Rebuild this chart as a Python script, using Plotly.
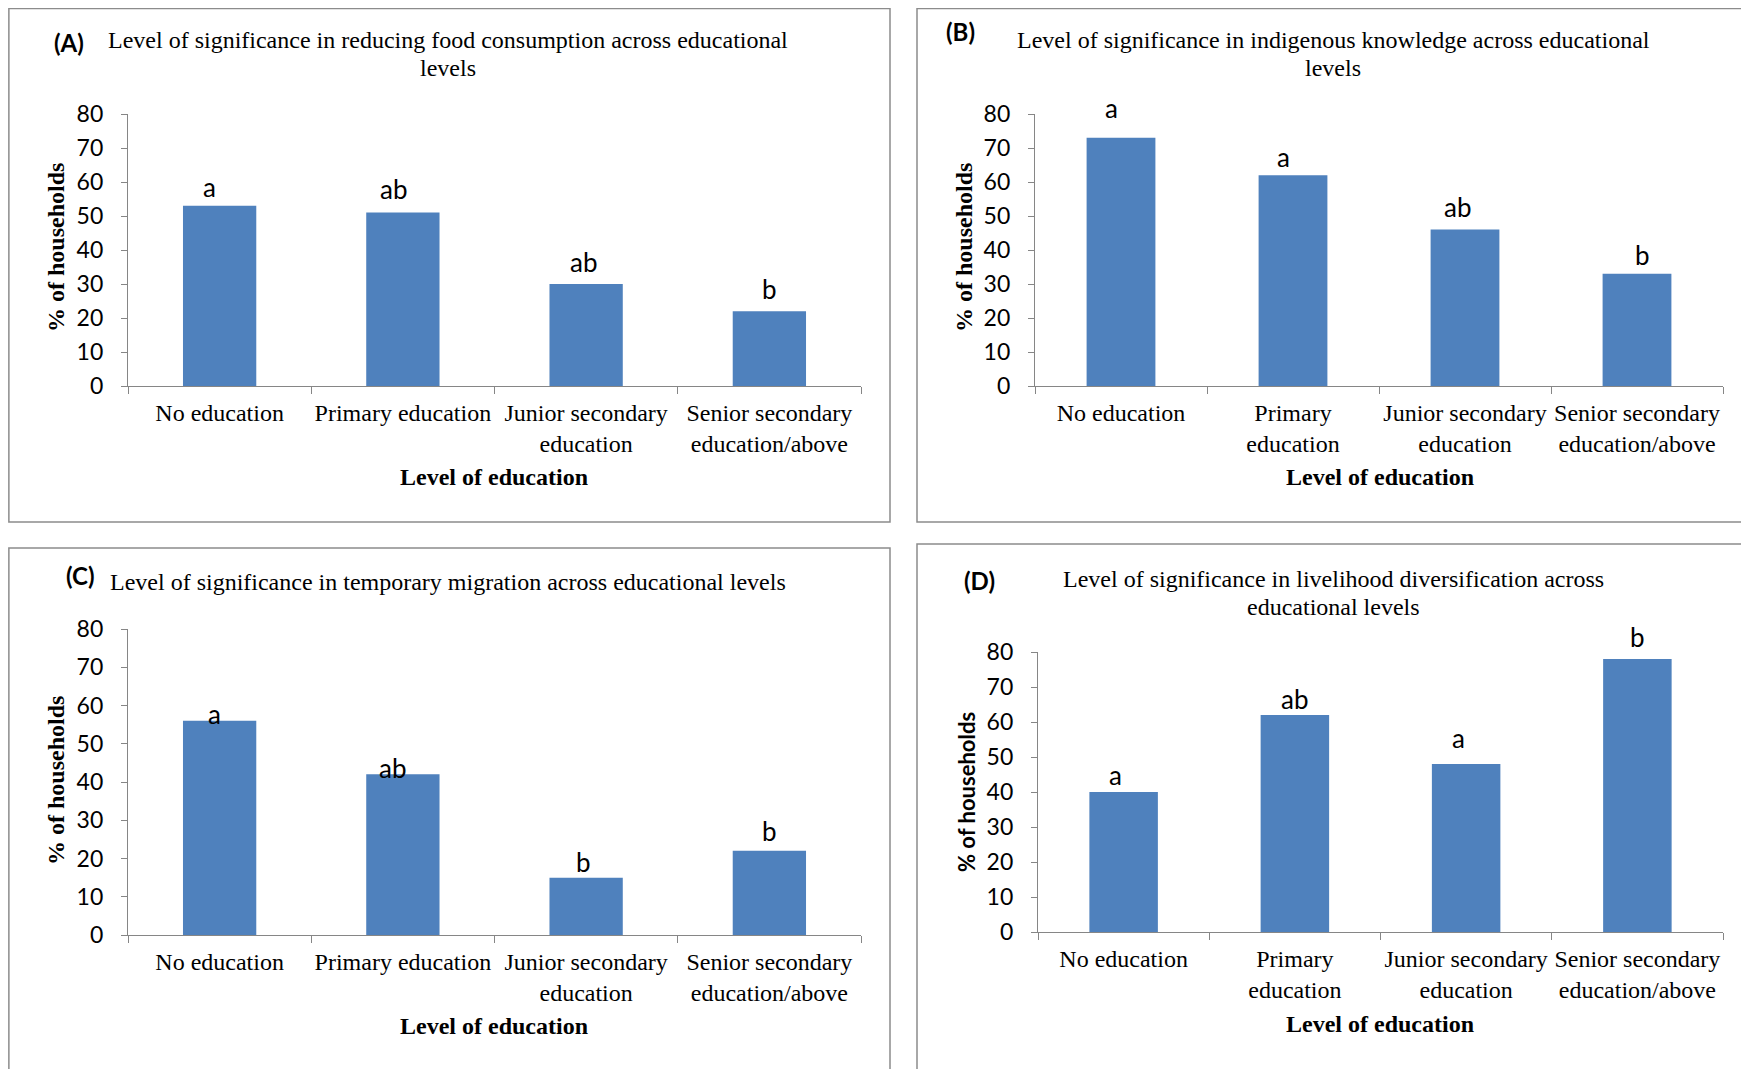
import plotly.graph_objects as go

# figure size; the page shows it offset by the default body margin
FW, FH = 1741, 1061
OX, OY = 8, 8

# ---------------- data ----------------
labels_wide = ["No education", "Primary education", "Junior secondary<br>education",
               "Senior secondary<br>education/above"]
labels_narrow = ["No education", "Primary<br>education", "Junior secondary<br>education",
                 "Senior secondary<br>education/above"]

values_A = [53, 51, 30, 22]
values_B = [73, 62, 46, 33]
values_C = [56, 42, 15, 22]
values_D = [40, 62, 48, 78]

letters_A = ["a", "ab", "ab", "b"]
letters_B = ["a", "a", "ab", "b"]
letters_C = ["a", "ab", "b", "b"]
letters_D = ["a", "ab", "a", "b"]

title_lines = {
    "A": ["Level of significance in reducing food consumption across educational", "levels"],
    "B": ["Level of significance in indigenous knowledge across educational", "levels"],
    "C": ["Level of significance in temporary migration across educational levels"],
    "D": ["Level of significance in livelihood diversification across", "educational levels"],
}
y_title = "% of households"
x_title = "Level of education"
y_ticks = [0, 10, 20, 30, 40, 50, 60, 70, 80]

# ---------------- styling / layout ----------------
SERIF = "Liberation Serif"
SANS = "Lato"
BAR = "#4F81BD"
AX = "#868686"
LINE_GAP = 28


def px(x):
    return (x - OX) / FW


def py(y):
    return 1 - (y - OY) / FH


panels = [
    dict(key="A", vals=values_A, lets=letters_A, labels=labels_wide,
         x0=128, x1=861, y0=386, y1=114,
         box=(8, 6, 890, 522), tag=(69, 42), title=(448, 40), ytitle=(56, 248),
         xtitle=(494, 477), yfont=SERIF,
         lshift=[19, 24, 22, 22], lx=[-10, -9, -3, 0]),
    dict(key="B", vals=values_B, lets=letters_B, labels=labels_narrow,
         x0=1035, x1=1723, y0=386, y1=114,
         box=(917, 6, 1760, 522), tag=(961, 31), title=(1333, 40), ytitle=(964, 248),
         xtitle=(1380, 477), yfont=SERIF,
         lshift=[30, 18, 23, 19], lx=[-10, -10, -8, 5]),
    dict(key="C", vals=values_C, lets=letters_C, labels=labels_wide,
         x0=128, x1=861, y0=935, y1=629,
         box=(8, 548, 890, 1080), tag=(80, 575), title=(448, 582), ytitle=(56, 781),
         xtitle=(494, 1026), yfont=SERIF,
         lshift=[7, 6, 16, 20], lx=[-5, -10, -3, 0]),
    dict(key="D", vals=values_D, lets=letters_D, labels=labels_narrow,
         x0=1038, x1=1723, y0=932, y1=652,
         box=(917, 544, 1760, 1080), tag=(979, 580), title=(1333, 579), ytitle=(966, 792),
         xtitle=(1380, 1024), yfont=SANS,
         lshift=[17, 16, 26, 22], lx=[-8, 0, -8, 0]),
]

fig = go.Figure()
annotations = []
shapes = []

for i, p in enumerate(panels, start=1):
    xa = "x" if i == 1 else f"x{i}"
    ya = "y" if i == 1 else f"y{i}"
    fig.add_trace(go.Bar(
        x=p["labels"], y=p["vals"], xaxis=xa, yaxis=ya,
        marker=dict(color=BAR, line=dict(width=0)),
        showlegend=False, hoverinfo="x+y",
    ))
    xkey = "xaxis" if i == 1 else f"xaxis{i}"
    ykey = "yaxis" if i == 1 else f"yaxis{i}"
    fig.update_layout(**{
        xkey: dict(
            domain=[px(p["x0"]), px(p["x1"])], anchor=ya, type="category",
            range=[-0.5, 3.5], showline=True, linecolor=AX, linewidth=1.3,
            ticks="outside", tickson="boundaries", ticklen=7, tickcolor=AX, tickwidth=1.3,
            showgrid=False, zeroline=False, ticklabelstandoff=5, tickangle=0,
            automargin=False,
            tickfont=dict(family=SERIF, size=24, color="black"),
            fixedrange=True,
        ),
        ykey: dict(
            domain=[py(p["y0"]), py(p["y1"])], anchor=xa,
            range=[0, 80], tickvals=y_ticks, showline=True, linecolor=AX, linewidth=1.3,
            ticks="outside", ticklen=6, tickcolor=AX, tickwidth=1.3,
            showgrid=False, zeroline=False, ticklabelstandoff=13, automargin=False,
            tickfont=dict(family=SANS, size=23, color="black"),
            fixedrange=True,
        ),
    })
    # significance letters
    for j, (v, l) in enumerate(zip(p["vals"], p["lets"])):
        annotations.append(dict(
            x=p["labels"][j], y=v, xref=xa, yref=ya, text=l, showarrow=False,
            yanchor="middle", yshift=p["lshift"][j], xshift=p["lx"][j],
            font=dict(family=SANS, size=26, color="black"),
        ))
    # panel tag
    annotations.append(dict(
        x=px(p["tag"][0]), y=py(p["tag"][1]), xref="paper", yref="paper",
        text=f"<b>({p['key']})</b>", showarrow=False, xanchor="center", yanchor="middle",
        font=dict(family=SANS, size=24, color="black"),
    ))
    # title (one annotation per line for Word-like line spacing)
    for k, line in enumerate(title_lines[p["key"]]):
        annotations.append(dict(
            x=px(p["title"][0]), y=py(p["title"][1] + k * LINE_GAP), xref="paper", yref="paper",
            text=line, showarrow=False, xanchor="center", yanchor="middle",
            font=dict(family=SERIF, size=24, color="black"),
        ))
    # y title
    annotations.append(dict(
        x=px(p["ytitle"][0]), y=py(p["ytitle"][1]), xref="paper", yref="paper",
        text=f"<b>{y_title}</b>", showarrow=False, textangle=-90,
        xanchor="center", yanchor="middle",
        font=dict(family=p["yfont"], size=24 if p["yfont"] == SERIF else 22, color="black"),
    ))
    # x title
    annotations.append(dict(
        x=px(p["xtitle"][0]), y=py(p["xtitle"][1]), xref="paper", yref="paper",
        text=f"<b>{x_title}</b>", showarrow=False, xanchor="center", yanchor="middle",
        font=dict(family=SERIF, size=24, color="black"),
    ))
    # panel border
    bx0, by0, bx1, by1 = p["box"]
    shapes.append(dict(
        type="rect", xref="paper", yref="paper",
        x0=max(px(bx0), 0.0005), x1=px(bx1),
        y0=py(by1), y1=min(py(by0), 0.9995),
        line=dict(color="#8c8c8c", width=1.5), fillcolor="rgba(0,0,0,0)", layer="below",
    ))

fig.update_layout(
    width=FW, height=FH,
    margin=dict(l=0, r=0, t=0, b=0, pad=0),
    paper_bgcolor="white", plot_bgcolor="white",
    bargap=0.6,
    annotations=annotations, shapes=shapes,
    showlegend=False,
)

fig.write_html("out.html", config={"displayModeBar": False})
